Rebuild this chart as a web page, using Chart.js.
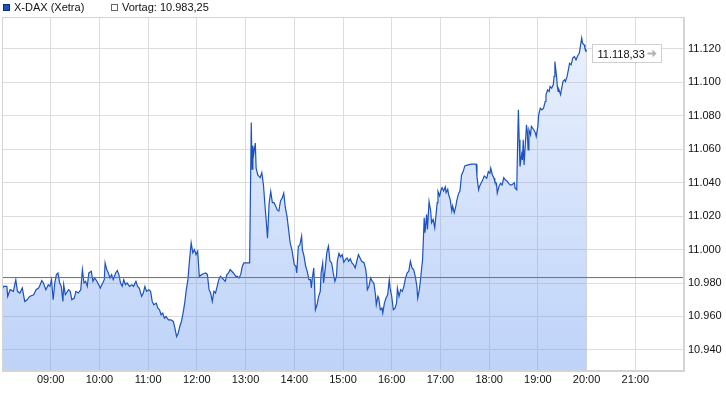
<!DOCTYPE html>
<html>
<head>
<meta charset="utf-8">
<script src="https://cdn.jsdelivr.net/npm/chart.js@4.4.1/dist/chart.umd.min.js"></script>
<style>
  html, body { margin: 0; padding: 0; background: #fff; }
  #wrap { position: relative; width: 726px; height: 405px; }
  .item { position: absolute; top: 1px; font: 11px "Liberation Sans", Arial, sans-serif; color: #111; white-space: nowrap; }
  .box { position: absolute; top: 4px; width: 5px; height: 5px; border: 1px solid #555; }
</style>
</head>
<body>
<div id="wrap">
  <canvas id="chart" width="726" height="405"></canvas>
  <div class="box" style="left:3px; background:#1c52bf; border-color:#0d2f7a;"></div>
  <div class="item" id="lab1" style="left:14px;"></div>
  <div class="box" style="left:111px; background:#fff; border-color:#666;"></div>
  <div class="item" id="lab2" style="left:122px;"></div>
</div>
<script>
// X-DAX intraday, minutes after 08:00
const seriesName = 'X-DAX (Xetra)';
const prevClose = 10983.25;

const times = [
  0, 2, 6, 7, 10, 14, 17, 19, 22, 25, 28, 31, 34, 39, 42, 45, 47, 49, 51, 54, 57, 59,
  61, 63, 65, 67, 69, 71, 73, 75, 76, 78, 82, 84, 86, 89, 91, 94, 97, 99, 101, 103, 105,
  107, 110, 112, 114, 117, 120,
  121, 123, 126, 127, 129, 131, 133, 135, 137, 140, 142, 144, 146, 148, 150, 152, 154,
  157, 160, 162, 165, 167, 169, 172, 174, 176, 178, 181, 183, 185, 187, 190, 192, 194,
  196, 198, 200, 202, 205, 208, 211, 213, 215, 217, 219, 221, 223, 225, 227, 229, 231,
  233, 235, 237, 239, 241, 243,
  246, 248, 251, 253, 255, 257, 259, 261, 263, 265, 267, 269, 271, 273, 275, 277, 279,
  281, 283, 285, 288, 290, 292, 294, 296, 298, 305, 306, 307, 308, 309, 310, 312, 313,
  315, 318, 320, 322, 324, 326, 327, 329, 331, 333, 335, 337, 339, 341, 343, 345, 347,
  349, 351, 353, 355, 357, 360, 362, 363, 365, 367,
  369, 370, 372, 374, 376, 378, 380, 381, 382, 384, 385, 386, 388, 390, 392, 393, 395,
  396, 398, 400, 402, 404, 406, 408, 410, 412, 413, 415, 417, 419, 421, 423, 425, 427,
  429, 431, 433, 435, 437, 439, 441, 443, 446, 448, 449, 450, 452, 454, 456, 458, 460,
  461, 463, 464, 466, 468, 469, 471, 473, 475, 477, 478, 480, 482, 484, 486, 487, 489,
  491, 493, 495, 497, 499, 501, 503, 505, 507,
  509, 511, 512, 514, 515, 518, 519, 520, 521, 523, 524, 526, 528, 529, 531, 533, 534,
  536, 537, 539, 541, 542, 544, 546, 547, 549, 550, 552, 554, 555, 557, 559, 560, 562,
  564, 565, 566, 568, 570, 574, 578, 584, 585, 587, 588, 590, 592, 594, 597, 599, 601,
  602, 604, 606, 607, 609, 610, 612, 614, 616, 618, 620, 622, 624, 626, 628, 631, 632, 634,
  635, 636, 637, 638, 640, 641, 642, 643, 645, 646, 647, 648, 649, 651, 652, 655, 657,
  658, 660, 661, 663, 665, 667, 669, 670, 672, 674, 675, 677, 679, 680, 681, 683, 684,
  685, 686, 688, 689, 691, 693, 694, 696, 698, 699, 701, 703, 705, 707, 709, 711, 713,
  714, 715, 717, 718, 720
];

const values = [
  10976, 10978, 10978, 10972, 10976, 10975, 10982, 10975, 10974, 10977, 10969, 10970,
  10972, 10973, 10976, 10977, 10979, 10981.5, 10980, 10976, 10979, 10978,
  10982, 10970, 10980, 10985, 10986, 10980, 10978, 10969, 10979, 10973, 10976, 10975,
  10970, 10971, 10975, 10974, 10976, 10988, 10980, 10981, 10978,
  10986, 10987, 10981, 10983, 10981, 10978,
  10977, 10979, 10982, 10992, 10988, 10986, 10983, 10985, 10982, 10986, 10987.5, 10985,
  10980, 10978, 10982, 10979, 10980,
  10978, 10979, 10978, 10981, 10978, 10977, 10972, 10974, 10978, 10975, 10976, 10975,
  10969, 10967, 10968, 10965, 10964,
  10961, 10962, 10959, 10960, 10958, 10958, 10957, 10953, 10948, 10950, 10954, 10957,
  10962, 10968, 10976, 10982, 10994,
  11004, 10998, 11000, 10997, 10999, 10984,
  10985, 10985.5, 10986, 10985, 10976, 10974, 10969, 10975, 10974, 10978, 10982, 10984,
  10983, 10982, 10981, 10985, 10986,
  10988, 10987, 10986, 10984, 10984, 10983, 10985, 10990, 10992, 10992, 11034, 11076,
  11048, 11062, 11057, 11063.6, 11048.6,
  11044.6, 11043, 11046, 11038.7, 11025.7, 11013.7, 11006.8, 11027.7, 11034.7, 11028,
  11028, 11026, 11023.7, 11023, 11029, 11030.6, 11033.7,
  11025, 11020, 11011.8, 11003.8, 11000, 10991, 10990, 10986, 11001.8, 11003,
  11008, 11000, 10996, 10990, 10987, 10982, 10982, 10977, 10982, 10989, 10978, 10964,
  10967, 10972, 10975, 10986, 10992,
  10980, 10988, 10998, 11002, 10993, 10992, 10986, 10981, 10984, 10993, 10997.7, 10995.7,
  10997, 10992.4, 10994, 10995, 10993,
  10994.5, 10992, 10991, 10989, 10993, 10997, 10995, 10993, 10992, 10988, 10984, 10976,
  10978, 10983, 10981, 10980, 10973,
  10967, 10972, 10971, 10964, 10965, 10962, 10968, 10971, 10973, 10982, 10977, 10972,
  10964, 10965, 10968, 10977, 10972,
  10976, 10975, 10978, 10983, 10986, 10987, 10993, 10989, 10988,
  10984, 10978, 10971, 10976, 10980, 10994, 11006, 11019, 11010, 11021, 11012, 11028.7,
  11023, 11016, 11018, 11013, 11018,
  11028, 11034.7, 11032, 11036, 11037, 11035, 11037.5, 11034, 11036, 11033, 11030, 11023,
  11026, 11022, 11026, 11029, 11033,
  11035, 11039.7, 11044.6, 11046.6, 11050, 11050.6, 11051, 11051, 11043.6, 11035.7,
  11037.6, 11039.6, 11041.6, 11044, 11042.6, 11046.6, 11045.6,
  11048.6, 11044.6, 11042.6, 11040.6, 11039.6, 11033.7, 11037.6, 11039.6, 11038.6, 11043,
  11041.6, 11041, 11039.6, 11038.6, 11038.6, 11040, 11036.6, 11035.7,
  11061.6, 11083.5, 11065.6, 11049.6, 11057, 11053.6, 11065.6, 11050.6, 11066.6, 11074.6,
  11070.6, 11059.6, 11071.6, 11068.6, 11073.6, 11071.6, 11069.6,
  11067.6, 11073.6, 11080.5, 11084.5, 11083.5, 11084.5, 11088.5, 11092.5, 11095.5,
  11094.5, 11097.5, 11096.5, 11098.5, 11103.5, 11112.4, 11103.5, 11097.5,
  11094.5, 11095.5, 11092.5, 11095.5, 11100.5, 11101.5, 11100.5, 11103.5, 11108.5,
  11111.4, 11110.4, 11114.4, 11115.4, 11113.4, 11115.7, 11117.3, 11123.4,
  11126.4, 11123.4, 11122.4, 11120.4, 11118.33
];

const xTicks = [0, 60, 120, 180, 240, 300, 360, 420, 480, 540, 600, 660, 720, 780, 840];
const xTickLabels = ['', '09:00', '10:00', '11:00', '12:00', '13:00', '14:00', '15:00',
  '16:00', '17:00', '18:00', '19:00', '20:00', '21:00', ''];
const yTicks = [10940, 10960, 10980, 11000, 11020, 11040, 11060, 11080, 11100, 11120];
const yMin = 10927.4;
const yMax = 11139;

const FONT = '"Liberation Sans", Arial, sans-serif';

function fmtDE(v, dec) {
    const parts = v.toFixed(dec).split('.');
    const intPart = parts[0].replace(/\B(?=(\d{3})+(?!\d))/g, '.');
    return parts.length > 1 ? intPart + ',' + parts[1] : intPart;
}

document.getElementById('lab1').textContent = seriesName;
document.getElementById('lab2').textContent = 'Vortag: ' + fmtDE(prevClose, 2);

const points = times.map((t, i) => ({ x: t, y: values[i] }));

// frame + last value box
const extras = {
    id: 'extras',
    afterDraw(chart) {
        const { ctx, chartArea: a, scales } = chart;
        ctx.save();
        ctx.strokeStyle = '#d4d4d4';
        ctx.lineWidth = 1;
        ctx.strokeRect(Math.round(a.left) + 0.5, Math.round(a.top) + 0.5,
            Math.round(a.right - a.left) - 1, Math.round(a.bottom - a.top) - 1);

        const last = values[values.length - 1];
        const px = scales.x.getPixelForValue(times[times.length - 1]);
        const py = scales.y.getPixelForValue(last);
        const bx = Math.round(px) + 5.5, by = Math.round(py) - 7.5, bw = 69, bh = 18;
        ctx.fillStyle = '#fff';
        ctx.fillRect(bx, by, bw, bh);
        ctx.strokeStyle = '#d0d0d0';
        ctx.strokeRect(bx, by, bw, bh);
        ctx.fillStyle = '#111';
        ctx.font = '11px ' + FONT;
        ctx.textBaseline = 'middle';
        ctx.fillText(fmtDE(last, 2), bx + 5, by + bh / 2 + 1);
        // arrow
        const ax = bx + 55, ay = by + bh / 2;
        ctx.strokeStyle = '#b4b4b4';
        ctx.fillStyle = '#b4b4b4';
        ctx.lineWidth = 2;
        ctx.beginPath();
        ctx.moveTo(ax, ay);
        ctx.lineTo(ax + 6, ay);
        ctx.stroke();
        ctx.beginPath();
        ctx.moveTo(ax + 5, ay - 4);
        ctx.lineTo(ax + 9, ay);
        ctx.lineTo(ax + 5, ay + 4);
        ctx.closePath();
        ctx.fill();
        ctx.restore();
    }
};

new Chart(document.getElementById('chart'), {
    type: 'line',
    data: {
        datasets: [
            {
                label: seriesName,
                data: points,
                borderColor: '#1c52bf',
                borderWidth: 1.2,
                pointRadius: 0,
                tension: 0,
                fill: 'start',
                order: 1,
                backgroundColor: (context) => {
                    const area = context.chart.chartArea;
                    if (!area) return 'rgba(100,150,240,0.3)';
                    const g = context.chart.ctx.createLinearGradient(0, area.top, 0, area.bottom);
                    g.addColorStop(0, 'rgba(100,150,240,0.12)');
                    g.addColorStop(1, 'rgba(100,150,240,0.42)');
                    return g;
                }
            },
            {
                label: 'Vortag',
                data: [{ x: xTicks[0], y: prevClose }, { x: xTicks[xTicks.length - 1], y: prevClose }],
                borderColor: '#6e6e6e',
                borderWidth: 1,
                pointRadius: 0,
                fill: false,
                order: 0
            }
        ]
    },
    options: {
        responsive: false,
        animation: false,
        layout: { padding: { top: 17, left: 2, right: 0, bottom: 0 } },
        plugins: { legend: { display: false }, tooltip: { enabled: false } },
        scales: {
            x: {
                type: 'linear',
                min: xTicks[0],
                max: xTicks[xTicks.length - 1],
                afterBuildTicks: (s) => { s.ticks = xTicks.map(v => ({ value: v })); },
                afterFit: (s) => { s.height = 34; },
                grid: { color: '#dddddd', drawTicks: false },
                border: { color: '#d4d4d4' },
                ticks: {
                    autoSkip: false, maxRotation: 0, padding: 2, color: '#111',
                    font: { family: FONT, size: 11 },
                    callback: (v) => xTickLabels[xTicks.indexOf(v)]
                }
            },
            y: {
                position: 'right',
                min: yMin,
                max: yMax,
                afterBuildTicks: (s) => { s.ticks = yTicks.map(v => ({ value: v })); },
                afterFit: (s) => { s.width = 42; },
                grid: { color: '#dddddd', drawTicks: false },
                border: { color: '#d4d4d4' },
                ticks: {
                    padding: 4, color: '#111',
                    font: { family: FONT, size: 11 },
                    callback: (v) => fmtDE(v, 0)
                }
            }
        }
    },
    plugins: [extras]
});
</script>
</body>
</html>
